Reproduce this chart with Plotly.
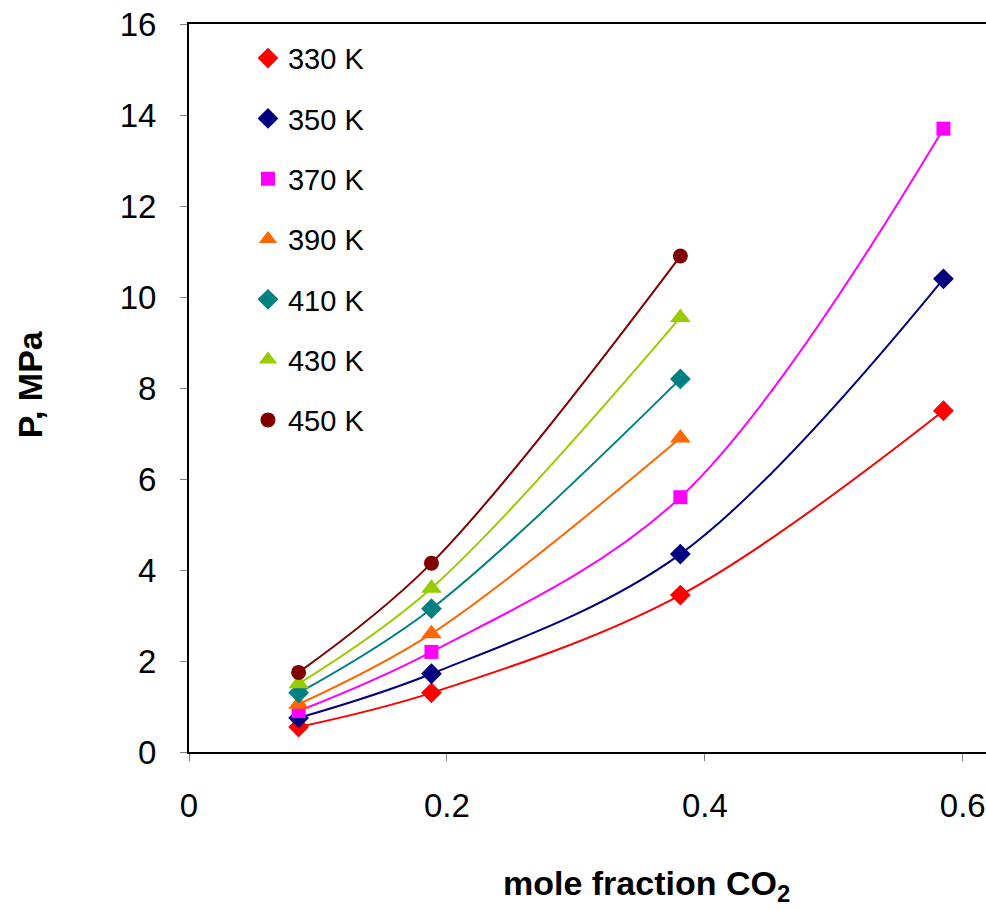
import plotly.graph_objects as go

x4 = [0.085, 0.188, 0.381, 0.585]
x3 = [0.085, 0.188, 0.381]

series_names = ["330 K", "350 K", "370 K", "390 K", "410 K", "430 K", "450 K"]
p330 = [0.55, 1.30, 3.45, 7.50]
p350 = [0.75, 1.72, 4.35, 10.40]
p370 = [0.90, 2.20, 5.60, 13.70]
p390 = [1.05, 2.60, 6.90]
p410 = [1.30, 3.15, 8.20]
p430 = [1.50, 3.60, 9.55]
p450 = [1.75, 4.15, 10.90]

xs = [x4, x4, x4, x3, x3, x3, x3]
ys = [p330, p350, p370, p390, p410, p430, p450]
colors = ["#FF0000", "#000080", "#FF00FF", "#FF6600", "#008080", "#99CC00", "#800000"]
symbols = ["diamond", "diamond", "square", "triangle-up", "diamond", "triangle-up", "circle"]
sizes = [16, 16, 14, 18, 16, 18, 15]

fig = go.Figure()
for i, name in enumerate(series_names):
    fig.add_trace(go.Scatter(
        x=xs[i], y=ys[i], mode="lines", line=dict(color=colors[i], width=2, shape="spline", smoothing=1.0),
        showlegend=False, hoverinfo="skip"))
for i, name in enumerate(series_names):
    fig.add_trace(go.Scatter(
        x=xs[i], y=ys[i], mode="markers", name=name, legendgroup=name,
        marker=dict(color=colors[i], symbol=symbols[i], size=sizes[i], line=dict(width=0))))

font_family = "Liberation Sans, Arial, sans-serif"

fig.update_layout(
    width=986, height=910,
    margin=dict(l=189, r=0, t=24, b=158),
    plot_bgcolor="white", paper_bgcolor="white",
    font=dict(family=font_family, color="black"),
    showlegend=True,
    legend=dict(x=0.074, y=0.988, xanchor="left", yanchor="top",
                font=dict(size=29, family=font_family), tracegroupgap=19.6,
                bgcolor="rgba(0,0,0,0)"),
    xaxis=dict(range=[0, 0.618], tickvals=[0, 0.2, 0.4, 0.6], ticktext=["0", "0.2", "0.4", "0.6"],
               showline=True, linecolor="black", linewidth=2, mirror=True,
               ticks="outside", ticklen=7, tickcolor="#808080", tickwidth=1,
               showgrid=False, zeroline=False, tickfont=dict(size=33),
               ticklabelstandoff=16, automargin=False),
    yaxis=dict(range=[0, 16], tickvals=[0, 2, 4, 6, 8, 10, 12, 14, 16],
               showline=True, linecolor="black", linewidth=2,
               ticks="outside", ticklen=7, tickcolor="#808080", tickwidth=1,
               showgrid=False, zeroline=False, tickfont=dict(size=33),
               ticklabelstandoff=17, automargin=False),
)

fig.add_annotation(text="<b>mole fraction CO<sub>2</sub></b>", xref="paper", yref="paper",
                   x=(646 - 189) / 797, y=-0.183, xanchor="center", yanchor="middle", showarrow=False,
                   font=dict(size=34, family=font_family, color="black"))
fig.add_annotation(text="<b>P, MPa</b>", xref="paper", yref="paper",
                   x=(30 - 189) / 797, y=0.505, xanchor="center", yanchor="middle", showarrow=False,
                   textangle=-90, font=dict(size=34, family=font_family, color="black"))

fig.write_html("out.html", config={"displayModeBar": False},
               post_script="document.body.style.margin='0px';document.body.style.overflow='hidden';")
